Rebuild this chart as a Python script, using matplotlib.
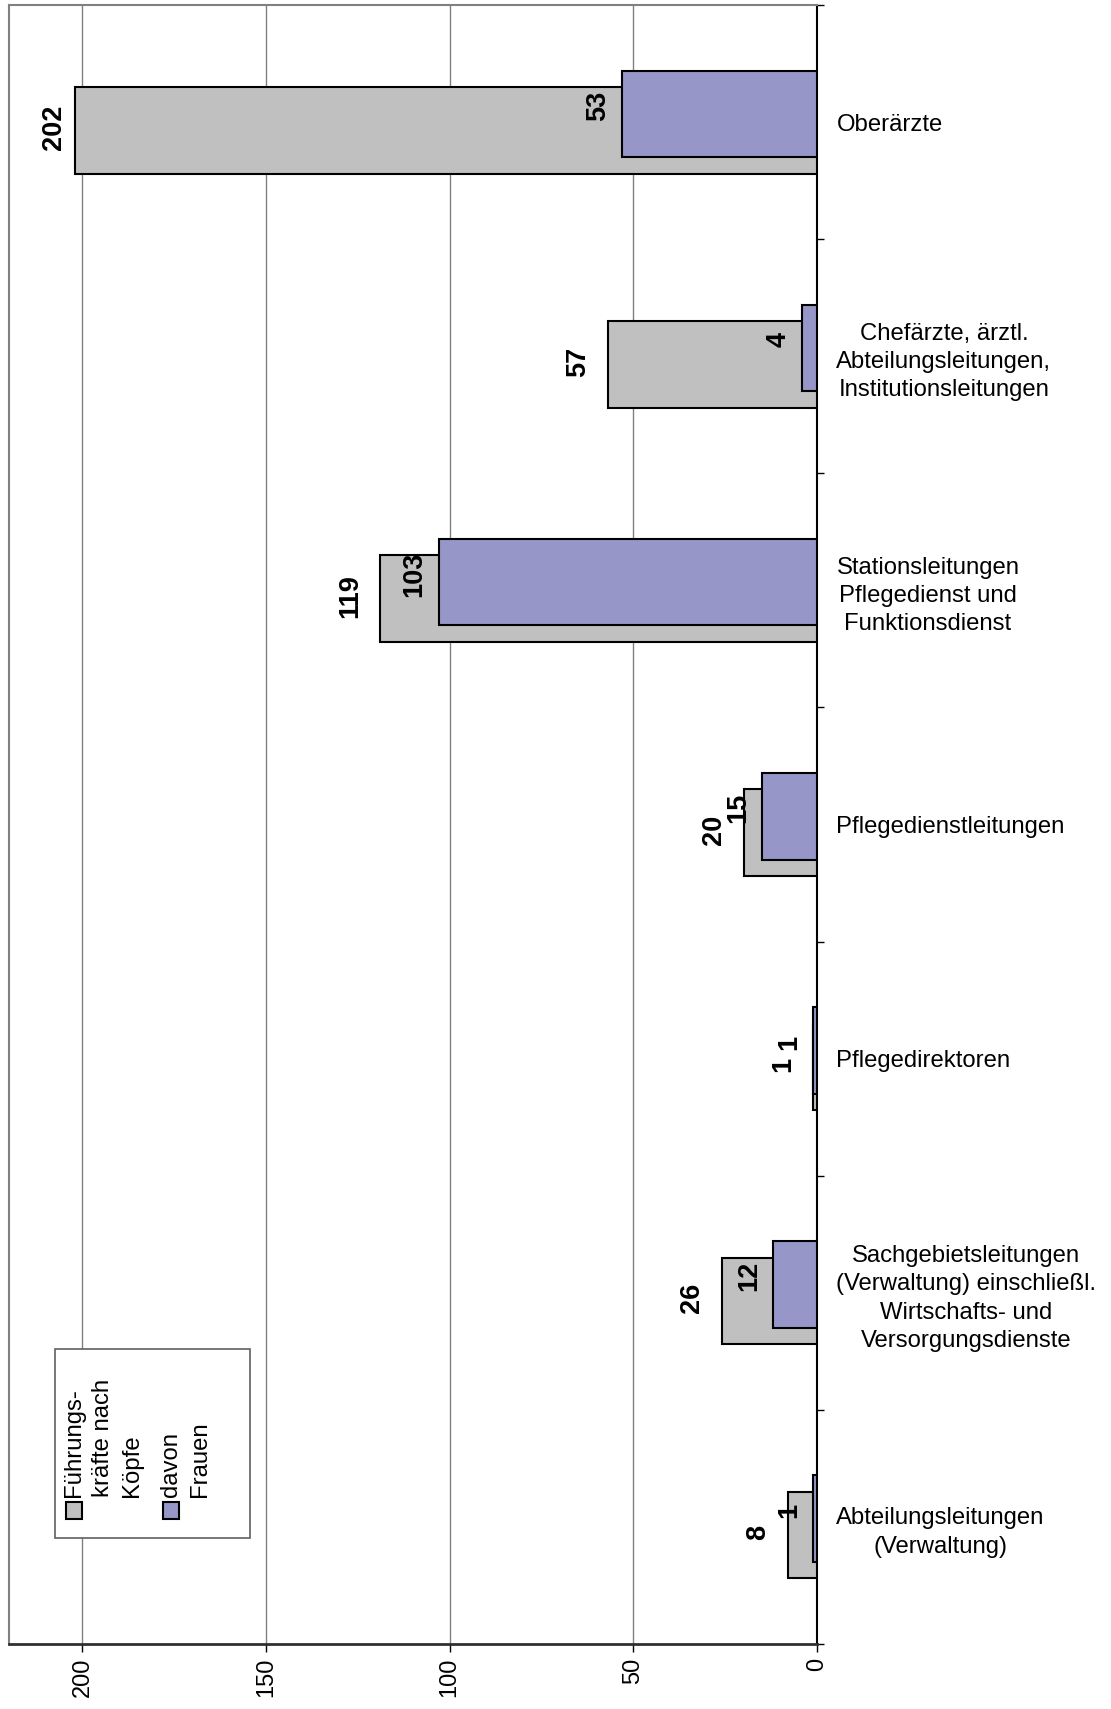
import matplotlib
matplotlib.use("Agg")
import matplotlib.pyplot as plt
import numpy as np
from matplotlib.patches import Rectangle

plt.rcParams['font.family'] = ['Liberation Sans', 'DejaVu Sans']

categories = [
    "Oberärzte",
    "Chefärzte, ärztl.\nAbteilungsleitungen,\nInstitutionsleitungen",
    "Stationsleitungen\nPflegedienst und\nFunktionsdienst",
    "Pflegedienstleitungen",
    "Pflegedirektoren",
    "Sachgebietsleitungen\n(Verwaltung) einschließl.\nWirtschafts- und\nVersorgungsdienste",
    "Abteilungsleitungen\n(Verwaltung)",
]
total = [202, 57, 119, 20, 1, 26, 8]
women = [53, 4, 103, 15, 1, 12, 1]
series_names = ["Führungs-\nkräfte nach\nKöpfe", "davon\nFrauen"]
xticks = [0, 50, 100, 150, 200]

gray = "#C0C0C0"
purple = "#9696C8"

W, H = 1111, 1709
fig = plt.figure(figsize=(W / 100, H / 100), dpi=100)
ax = fig.add_axes([9 / W, 1 - 1644 / H, (817 - 9) / W, (1644 - 5) / H])

y = np.arange(len(categories))
bh = 0.37
off = 0.035
ax.barh(y + off, total, height=bh, color=gray, edgecolor="black", linewidth=1.5, zorder=3)
ax.barh(y - off, women, height=bh, color=purple, edgecolor="black", linewidth=1.5, zorder=4)

for yy, v in zip(y + off, total):
    dx = -12 if v < 150 else -6
    ax.annotate(str(v), (v, yy), xytext=(dx, 2), textcoords="offset points",
                rotation=90, ha="right", va="center", fontsize=19.5, fontweight="bold", zorder=6)
for yy, v in zip(y - off, women):
    ax.annotate(str(v), (v, yy), xytext=(-8, 6), textcoords="offset points",
                rotation=90, ha="right", va="center", fontsize=19.5, fontweight="bold", zorder=6)

ax.set_xlim(220, 0)
ax.set_ylim(len(categories) - 0.5, -0.5)

ax.set_xticks(xticks)
ax.set_xticklabels([str(t) for t in xticks], rotation=90, fontsize=17)
ax.tick_params(axis="x", direction="out", length=6, width=1, pad=4, colors="black")
ax.xaxis.grid(True, color="#808080", linewidth=1, zorder=0)
ax.set_axisbelow(True)

ax.yaxis.tick_right()
ax.set_yticks(y)
ax.set_yticklabels(categories, fontsize=17.2, linespacing=1.37)
for lab in ax.get_yticklabels():
    lab.set_multialignment("center")
    lab.set_horizontalalignment("left")
ax.set_yticks(np.arange(-0.5, len(categories) + 0.5, 1), minor=True)
ax.tick_params(axis="y", which="major", length=0, pad=14)
ax.tick_params(axis="y", which="minor", direction="out", length=5, width=1, right=True, left=False)

for s in ["left", "top"]:
    ax.spines[s].set_color("#808080")
    ax.spines[s].set_linewidth(1.5)
ax.spines["right"].set_color("black")
ax.spines["right"].set_linewidth(1.5)
ax.spines["bottom"].set_color("#303030")
ax.spines["bottom"].set_linewidth(2)

# legend (rotated, drawn manually)
def fx(px):
    return px / W

def fy(py):
    return 1 - py / H

fig.add_artist(Rectangle((fx(55), fy(1538)), fx(250) - fx(55), (1538 - 1349) / H,
                         transform=fig.transFigure, facecolor="white", edgecolor="#606060",
                         linewidth=1.2, zorder=10))
for i, (name, col) in enumerate(zip(series_names, [gray, purple])):
    mx = [66, 163][i]
    fig.add_artist(Rectangle((fx(mx), fy(1519)), 16 / W, 17 / H, transform=fig.transFigure,
                             facecolor=col, edgecolor="black", linewidth=1.5, zorder=11))
    tx = [63, 160][i]
    fig.text(fx(tx), fy(1497), name, rotation=90, ha="left", va="bottom",
             multialignment="left", fontsize=17.2, linespacing=1.4, zorder=12)

fig.savefig("out.png", dpi=100)
